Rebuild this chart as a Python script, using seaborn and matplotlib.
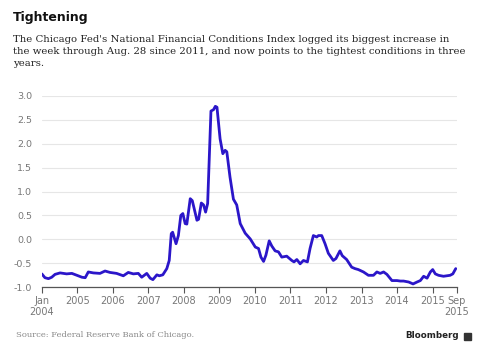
import pandas as pd
import seaborn as sns
import matplotlib.pyplot as plt
from matplotlib.patches import Rectangle

# Chicago Fed NFCI (weekly data, thinned)
dates = [
    "2004-01-02", "2004-02-03", "2004-03-10", "2004-04-13", "2004-05-17", "2004-07-08",
    "2004-09-13", "2004-11-06", "2004-12-28", "2005-02-17", "2005-03-23", "2005-04-24",
    "2005-06-15", "2005-08-22", "2005-10-13", "2005-12-03", "2006-02-09", "2006-04-19",
    "2006-06-09", "2006-07-31", "2006-09-20", "2006-10-25", "2006-12-16", "2007-01-20",
    "2007-02-17", "2007-03-30", "2007-04-24", "2007-05-30", "2007-07-10", "2007-08-04",
    "2007-08-25", "2007-09-08", "2007-10-13", "2007-11-06", "2007-12-01", "2007-12-22",
    "2008-01-15", "2008-02-01", "2008-03-07", "2008-03-28", "2008-05-15", "2008-06-01",
    "2008-06-29", "2008-07-22", "2008-08-12", "2008-09-02", "2008-10-06", "2008-11-02",
    "2008-11-20", "2008-12-07", "2009-01-08", "2009-02-05", "2009-03-01", "2009-03-18",
    "2009-04-20", "2009-05-25", "2009-06-28", "2009-08-03", "2009-09-23", "2009-11-14",
    "2010-01-05", "2010-02-07", "2010-03-04", "2010-03-31", "2010-04-24", "2010-05-28",
    "2010-06-24", "2010-07-28", "2010-08-31", "2010-10-04", "2010-11-24", "2011-01-15",
    "2011-02-07", "2011-03-08", "2011-04-11", "2011-05-15", "2011-06-25", "2011-07-22",
    "2011-08-25", "2011-09-29", "2011-10-16", "2011-11-19", "2011-12-23", "2012-01-26",
    "2012-03-17", "2012-04-13", "2012-05-24", "2012-06-17", "2012-08-01", "2012-09-22",
    "2012-10-26", "2012-11-29", "2013-01-21", "2013-03-13", "2013-05-04", "2013-06-08",
    "2013-07-12", "2013-08-16", "2013-09-19", "2013-11-10", "2014-01-01", "2014-02-04",
    "2014-03-10", "2014-05-01", "2014-06-15", "2014-07-26", "2014-08-29", "2014-10-02",
    "2014-11-06", "2014-12-10", "2015-01-03", "2015-01-30", "2015-03-04", "2015-04-24",
    "2015-07-01", "2015-07-29", "2015-08-28",
]
nfci = [
    -0.72, -0.80, -0.82, -0.79, -0.73, -0.70,
    -0.72, -0.71, -0.75, -0.79, -0.80, -0.68,
    -0.70, -0.71, -0.66, -0.69, -0.71, -0.76,
    -0.69, -0.72, -0.71, -0.79, -0.71, -0.81,
    -0.84, -0.74, -0.76, -0.74, -0.61, -0.44,
    0.12, 0.15, -0.09, 0.08, 0.50, 0.54,
    0.33, 0.32, 0.85, 0.81, 0.40, 0.42,
    0.76, 0.72, 0.57, 0.75, 2.68, 2.71,
    2.78, 2.76, 2.10, 1.79, 1.86, 1.83,
    1.30, 0.84, 0.72, 0.33, 0.13, 0.01,
    -0.16, -0.19, -0.37, -0.46, -0.33, -0.03,
    -0.14, -0.24, -0.26, -0.37, -0.35, -0.44,
    -0.47, -0.42, -0.51, -0.44, -0.47, -0.19,
    0.08, 0.05, 0.08, 0.08, -0.09, -0.29,
    -0.44, -0.40, -0.24, -0.34, -0.42, -0.58,
    -0.61, -0.63, -0.68, -0.75, -0.75, -0.68,
    -0.71, -0.68, -0.73, -0.86, -0.86, -0.87,
    -0.87, -0.89, -0.93, -0.89, -0.86, -0.77,
    -0.81, -0.68, -0.63, -0.72, -0.75, -0.77,
    -0.75, -0.72, -0.61,
]
year_ticks = list(range(2005, 2016))

df = pd.DataFrame({"Date": pd.to_datetime(dates), "NFCI": nfci})

sns.set_theme(style="whitegrid")
plt.rcParams["axes.unicode_minus"] = False
plt.rcParams["font.family"] = ["DejaVu Sans"]

fig = plt.figure(figsize=(4.88, 3.6), dpi=100)
ax = fig.add_axes([0.0855, 0.202, 0.851, 0.532])

sns.lineplot(data=df, x="Date", y="NFCI", color="#2B16C9", linewidth=2.0, ax=ax)

# axes styling
ax.set_ylim(-1.0, 3.0)
ax.set_yticks([-1.0, -0.5, 0.0, 0.5, 1.0, 1.5, 2.0, 2.5, 3.0])
ax.yaxis.set_major_formatter(plt.FuncFormatter(lambda v, p: f"{v:.1f}"))
ax.set_xlim(pd.Timestamp("2004-01-01"), pd.Timestamp("2015-09-10"))

xt = [pd.Timestamp("2004-01-01")] + [pd.Timestamp(f"{y}-01-01") for y in year_ticks] \
    + [pd.Timestamp("2015-09-10")]
xl = ["Jan\n2004"] + [str(y) for y in year_ticks] + ["Sep\n2015"]
ax.set_xticks(xt)
ax.set_xticklabels(xl)

ax.grid(axis="x", visible=False)
ax.grid(axis="y", color="#e6e6e6", linewidth=0.8)
for s in ["top", "right", "left"]:
    ax.spines[s].set_visible(False)
ax.spines["bottom"].set_color("#555555")
ax.spines["bottom"].set_linewidth(0.9)
ax.tick_params(axis="x", bottom=True, direction="out", length=4, width=0.8,
               color="#555555", labelsize=7, labelcolor="#777777", pad=2)
ax.tick_params(axis="y", left=False, labelsize=6.8, labelcolor="#777777", pad=1)
ax.set_xlabel("")
ax.set_ylabel("")

# header and footer text
fig.text(13 / 488, 1 - 18 / 360, "Tightening", fontsize=9, fontweight="bold",
         color="#111111", va="center", ha="left")
fig.text(13 / 488, 1 - 34.5 / 360,
         "The Chicago Fed's National Financial Conditions Index logged its biggest increase in\n"
         "the week through Aug. 28 since 2011, and now points to the tightest conditions in three\n"
         "years.",
         fontsize=7.3, family=["DejaVu Serif"], color="#222222", va="top", ha="left",
         linespacing=1.45)
fig.text(16 / 488, 1 - 335 / 360, "Source: Federal Reserve Bank of Chicago.", fontsize=6,
         family=["DejaVu Serif"], color="#888888", va="center", ha="left")
fig.text(459 / 488, 1 - 336 / 360, "Bloomberg", fontsize=6.3, fontweight="bold",
         color="#222222", va="center", ha="right")
fig.patches.append(Rectangle((464 / 488, 1 - 340 / 360), 7 / 488, 7 / 360,
                             transform=fig.transFigure, color="#333333"))

fig.savefig("out.png", dpi=100)
